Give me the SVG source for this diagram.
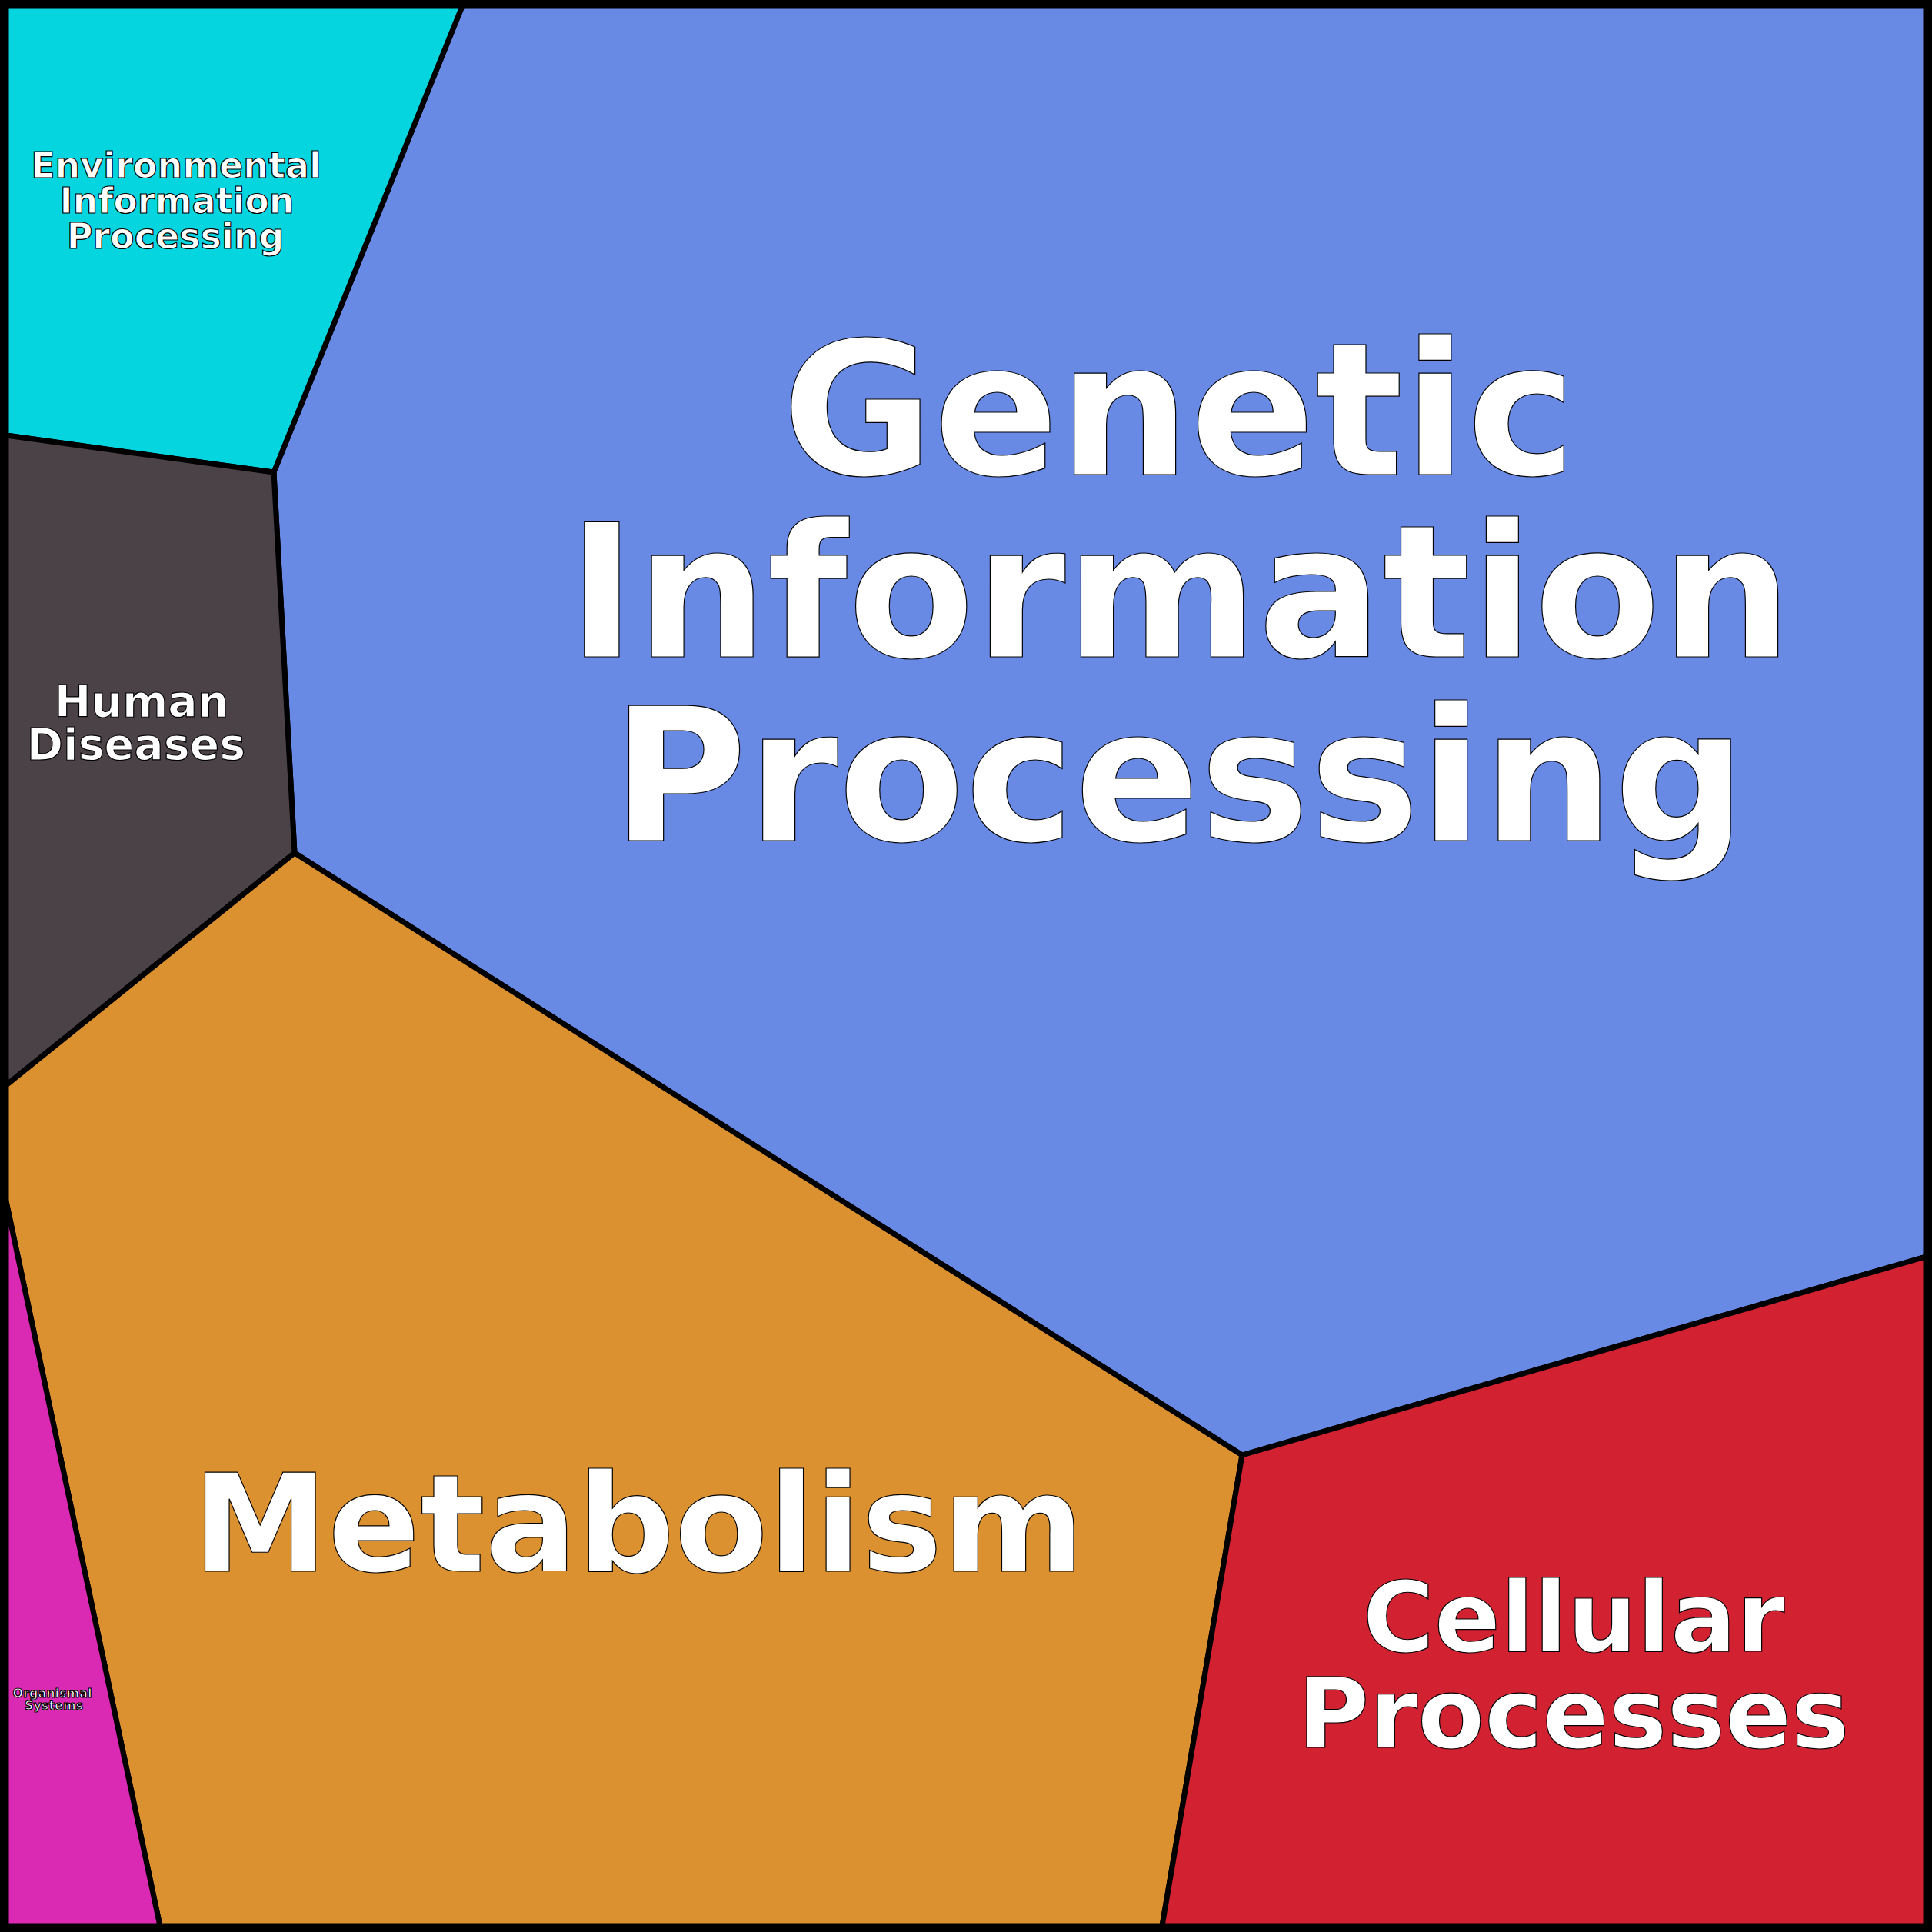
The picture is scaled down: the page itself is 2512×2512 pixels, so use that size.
<svg xmlns="http://www.w3.org/2000/svg" width="2512" height="2512" viewBox="0 0 2512 2512">
<style>
.r{stroke:#000;stroke-width:7;stroke-linejoin:round}
.t{font-family:"DejaVu Sans",sans-serif;font-weight:bold;fill:#fff;stroke:#000;stroke-width:1.2;text-anchor:middle}
</style>
<g id="gip"><polygon class="r" fill="#6889e4" points="601,8 2504,8 2504,1634 1615,1892 383,1109 356,614"/>
<text class="t" font-size="240" x="1533" y="617">Genetic</text>
<text class="t" font-size="240" x="1534" y="854">Information</text>
<text class="t" font-size="240" x="1533" y="1093">Processing</text></g>
<g id="env"><polygon class="r" fill="#04d5df" points="8,8 601,8 356,614 8,566"/>
<text class="t" font-size="46" stroke-width="0.8" x="229" y="231">Environmental</text>
<text class="t" font-size="46" stroke-width="0.8" x="230" y="277">Information</text>
<text class="t" font-size="46" stroke-width="0.8" x="228" y="323">Processing</text></g>
<g id="hd"><polygon class="r" fill="#4b4248" points="8,566 356,614 383,1109 8,1411"/>
<text class="t" font-size="57" stroke-width="0.8" x="184" y="932">Human</text>
<text class="t" font-size="57" stroke-width="0.8" x="177" y="988">Diseases</text></g>
<g id="met"><polygon class="r" fill="#db912f" points="383,1109 1615,1892 1511,2504 208,2504 8,1562 8,1411"/>
<text class="t" font-size="177" x="830" y="2043">Metabolism</text></g>
<g id="org"><polygon class="r" fill="#da29b2" points="8,1562 208,2504 8,2504"/>
<text class="t" font-size="16" stroke="none" x="68" y="2207">Organismal</text>
<text class="t" font-size="16" stroke="none" x="70" y="2223">Systems</text></g>
<g id="cell"><polygon class="r" fill="#d22232" points="1615,1892 2504,1634 2504,2504 1511,2504"/>
<text class="t" font-size="127" x="2046" y="2147">Cellular</text>
<text class="t" font-size="127" x="2046" y="2272">Processes</text></g>
<rect x="5" y="5" width="2502" height="2502" fill="none" stroke="#000" stroke-width="10"/>
</svg>
